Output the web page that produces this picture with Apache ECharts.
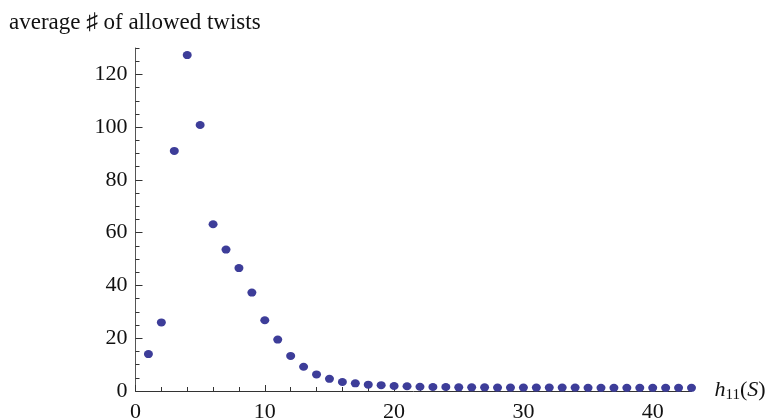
<!DOCTYPE html>
<html>
<head>
<meta charset="utf-8">
<script src="https://cdn.jsdelivr.net/npm/echarts@6/dist/echarts.min.js"></script>
<style>
  html, body { margin: 0; padding: 0; background: #fff; }
  #chart { width: 765px; height: 419px; }
</style>
</head>
<body>
<div id="chart"></div>
<script>
// h11(S) values and the average number of allowed twists at each
const h11Values = [1, 2, 3, 4, 5, 6, 7, 8, 9, 10, 11, 12, 13, 14, 15, 16, 17, 18, 19, 20, 21,
  22, 23, 24, 25, 26, 27, 28, 29, 30, 31, 32, 33, 34, 35, 36, 37, 38, 39, 40, 41, 42, 43];
const avgTwists = [14.0, 26.0, 91.0, 127.3, 100.8, 63.2, 53.6, 46.6, 37.3, 26.8, 19.5, 13.3, 9.2,
  6.3, 4.6, 3.4, 2.9, 2.4, 2.2, 1.9, 1.8, 1.6, 1.5, 1.5, 1.4, 1.4, 1.4, 1.3, 1.3, 1.3, 1.3, 1.3,
  1.3, 1.3, 1.2, 1.2, 1.2, 1.2, 1.2, 1.2, 1.2, 1.2, 1.2];

// tick positions
const xMajorTicks = [0, 10, 20, 30, 40];
const xMinorTicks = [2, 4, 6, 8, 12, 14, 16, 18, 22, 24, 26, 28, 32, 34, 36, 38, 42];
const yMajorTicks = [0, 20, 40, 60, 80, 100, 120];
const yMinorTicks = [5, 10, 15, 25, 30, 35, 45, 50, 55, 65, 70, 75, 85, 90, 95,
  105, 110, 115, 125, 130];

const X_MAX = 43;
const Y_MAX = 130;
const serif = '"Liberation Serif", "DejaVu Serif", serif';
const axisColor = '#333';

const chart = echarts.init(document.getElementById('chart'), null, { renderer: 'canvas' });

const points = h11Values.map((x, i) => [x, avgTwists[i]]);

chart.setOption({
  animation: false,
  backgroundColor: '#fff',
  title: {
    text: 'average \u266F of allowed twists',
    left: 9,
    top: 11,
    padding: 0,
    textStyle: { fontFamily: serif, fontSize: 23, fontWeight: 'normal', color: '#111' }
  },
  grid: { left: 135.5, right: 73.5, top: 48, bottom: 28, containLabel: false, outerBoundsMode: 'none' },
  xAxis: [
    {
      type: 'value', min: 0, max: X_MAX, position: 'bottom',
      axisLine: { show: true, onZero: false, lineStyle: { color: axisColor, width: 1 } },
      axisTick: { show: true, inside: true, length: 6, customValues: xMajorTicks,
        lineStyle: { color: axisColor } },
      axisLabel: { customValues: xMajorTicks, margin: 10, fontFamily: serif, fontSize: 22, color: '#111' },
      splitLine: { show: false },
      name: '{i|h}{sub|11}{n|(}{i|S}{n|)}',
      nameLocation: 'end',
      nameGap: 23,
      nameTextStyle: {
        rich: {
          i: { fontFamily: serif, fontStyle: 'italic', fontSize: 22, color: '#111', verticalAlign: 'top', lineHeight: 24 },
          n: { fontFamily: serif, fontSize: 22, color: '#111', verticalAlign: 'top', lineHeight: 24 },
          sub: { fontFamily: serif, fontSize: 15, color: '#111', verticalAlign: 'top', lineHeight: 24, padding: [9, 0, 0, 0] }
        }
      }
    },
    {
      type: 'value', min: 0, max: X_MAX, position: 'bottom',
      axisLine: { show: false },
      axisTick: { show: true, inside: true, length: 4, customValues: xMinorTicks,
        lineStyle: { color: axisColor } },
      axisLabel: { show: false },
      splitLine: { show: false }
    }
  ],
  yAxis: [
    {
      type: 'value', min: 0, max: Y_MAX, position: 'left',
      axisLine: { show: true, onZero: false, lineStyle: { color: '#555', width: 1 } },
      axisTick: { show: true, inside: true, length: 7, customValues: yMajorTicks,
        lineStyle: { color: axisColor } },
      axisLabel: { customValues: yMajorTicks, margin: 8, fontFamily: serif, fontSize: 22, color: '#111' },
      splitLine: { show: false }
    },
    {
      type: 'value', min: 0, max: Y_MAX, position: 'left',
      axisLine: { show: false },
      axisTick: { show: true, inside: true, length: 4, customValues: yMinorTicks,
        lineStyle: { color: axisColor } },
      axisLabel: { show: false },
      splitLine: { show: false }
    }
  ],
  series: [
    {
      type: 'scatter',
      xAxisIndex: 0,
      yAxisIndex: 0,
      data: points,
      symbol: 'circle',
      symbolSize: [9, 8],
      itemStyle: { color: '#3d3d99', opacity: 1 },
      clip: false,
      z: 5
    }
  ]
});
</script>
</body>
</html>
